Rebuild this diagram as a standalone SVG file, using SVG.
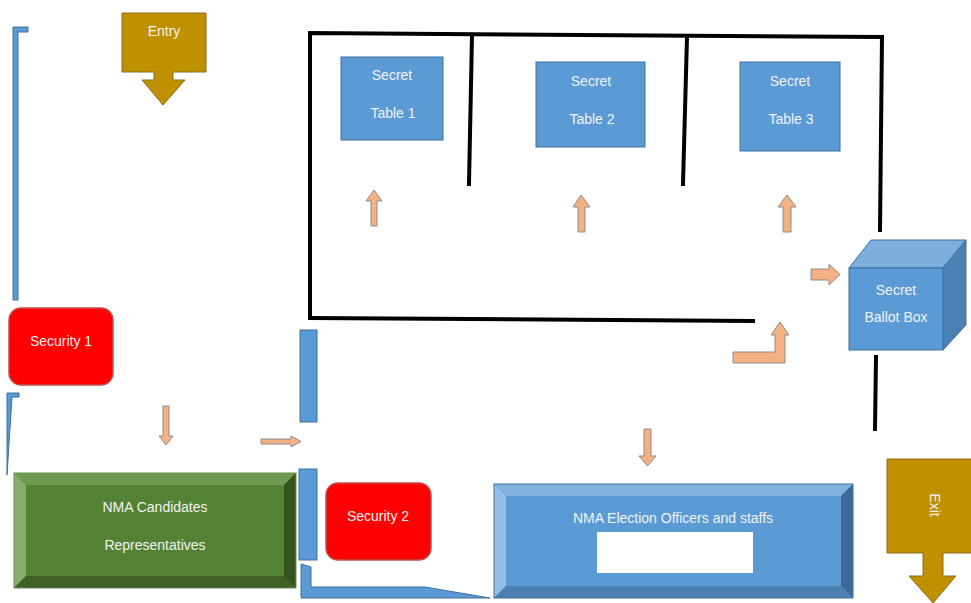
<svg xmlns="http://www.w3.org/2000/svg" width="971" height="603" viewBox="0 0 971 603">
<style>
.t{font-family:"Liberation Sans",Arial,sans-serif;font-size:14px;fill:#f2f2f2;text-anchor:middle}
.wall{stroke:#000;stroke-width:4;fill:none;stroke-linecap:square}
.blue{fill:#5B9BD5;stroke:#41719C;stroke-width:1}
.red{fill:#FF0000;stroke:#C0504D;stroke-width:1.5}
.arr{fill:#F4B183;stroke:#8C8C8C;stroke-width:1}
.gold{fill:#BF9000;stroke:#8C6D1F;stroke-width:1}
</style>
<rect width="971" height="603" fill="#fff"/>

<!-- walls -->
<g id="walls">
<polyline class="wall" points="310,318 310,33 882,37 880,230"/>
<line class="wall" x1="310" y1="318" x2="753" y2="321"/>
<line class="wall" x1="472" y1="35" x2="469" y2="184"/>
<line class="wall" x1="687" y1="37" x2="683" y2="184"/>
<line class="wall" x1="876" y1="357" x2="875" y2="429"/>
<path class="blue" d="M13,27 H28 V32 H18 V300 H13 Z"/>
<path class="blue" d="M7,393 H19 V397 H12 L7,475 Z"/>
<rect class="blue" x="300" y="330" width="17" height="92"/>
<rect class="blue" x="299" y="469" width="18" height="91"/>
<path class="blue" d="M301,564 L311,567 V587 H425 L490,598 H301 Z"/>
</g>

<g id="entry">
<path class="gold" d="M122,13 H206 V72 H173 V80 H185 L163,105 L142,80 H154 V72 H122 Z"/>
<text class="t" x="164" y="36" font-size="13" fill="#f7f0d5">Entry</text>
</g>

<g id="security1">
<rect class="red" x="9" y="308" width="104" height="77" rx="12"/>
<text class="t" x="61" y="346">Security 1</text>
</g>

<g id="security2">
<rect class="red" x="326" y="483" width="105" height="77" rx="12"/>
<text class="t" x="378" y="521">Security 2</text>
</g>

<g id="candidates">
<rect x="14" y="473" width="282" height="115" fill="#548235"/>
<polygon points="14,473 296,473 284,485 26,485" fill="#6F9A4F"/>
<polygon points="14,473 26,485 26,576 14,588" fill="#86AD6A"/>
<polygon points="296,473 296,588 284,576 284,485" fill="#34521E"/>
<polygon points="14,588 26,576 284,576 296,588" fill="#3D6126"/>
<rect x="14" y="473" width="282" height="115" fill="none" stroke="#6E8F5A" stroke-width="1"/>
<text class="t" x="155" y="512">NMA Candidates</text>
<text class="t" x="155" y="550">Representatives</text>
</g>

<g id="table1">
<rect class="blue" x="341" y="57" width="102" height="83"/>
<text class="t" x="392" y="80">Secret</text>
<text class="t" x="393" y="118">Table 1</text>
</g>
<g id="table2">
<rect class="blue" x="536" y="62" width="109" height="85"/>
<text class="t" x="591" y="86">Secret</text>
<text class="t" x="592" y="124">Table 2</text>
</g>
<g id="table3">
<rect class="blue" x="740" y="62" width="100" height="89"/>
<text class="t" x="790" y="86">Secret</text>
<text class="t" x="791" y="124">Table 3</text>
</g>

<g id="ballotbox">
<polygon points="849,268 871,240 966,240 943,268" fill="#7DAFDD" stroke="#41719C"/>
<polygon points="943,268 966,240 966,325 943,350" fill="#4A80B4" stroke="#41719C"/>
<rect class="blue" x="849" y="268" width="94" height="82"/>
<text class="t" x="896" y="295">Secret</text>
<text class="t" x="896" y="322">Ballot Box</text>
</g>

<g id="officers">
<rect x="494" y="484" width="359" height="114" fill="#5B9BD5"/>
<polygon points="494,484 853,484 841,496 506,496" fill="#80B1DF"/>
<polygon points="494,484 506,496 506,586 494,598" fill="#93BEE5"/>
<polygon points="853,484 853,598 841,586 841,496" fill="#3B6A98"/>
<polygon points="494,598 506,586 841,586 853,598" fill="#4A7FB2"/>
<rect x="494" y="484" width="359" height="114" fill="none" stroke="#41719C" stroke-width="1"/>
<text class="t" x="673" y="523">NMA Election Officers and staffs</text>
<rect x="597" y="532" width="156" height="41" fill="#fff"/>
</g>

<g id="exit">
<path class="gold" d="M887,459 H972 V553 H943 V576 H956 L933,603 L909,576 H923 V553 H887 Z"/>
<text class="t" font-size="13" fill="#f7f0d5" transform="translate(930,505) rotate(90)">Exit</text>
</g>

<g id="connectors">
<path class="arr" d="M163,406 H169 V436 H173 L166,445 L159,436 H163 Z"/>
<path class="arr" d="M261,439 H291 V436 L301,441.5 L291,447 V444 H261 Z"/>
<path class="arr" d="M371,226 V201 H366 L374,190 L382,201 H377 V226 Z"/>
<path class="arr" d="M578,232 V207 H573 L581,195 L590,207 H585 V232 Z"/>
<path class="arr" d="M783,232 V207 H778 L787,195 L796,207 H791 V232 Z"/>
<path class="arr" d="M811,269 H829 V264 L840,274.5 L829,285 V280 H811 Z"/>
<path class="arr" d="M733,352 H775 V335 H771 L780,322 L789,335 H785 V363 H733 Z"/>
<path class="arr" d="M644,429 H651 V456 H656 L647.5,466 L639,456 H644 Z"/>
</g>
</svg>
